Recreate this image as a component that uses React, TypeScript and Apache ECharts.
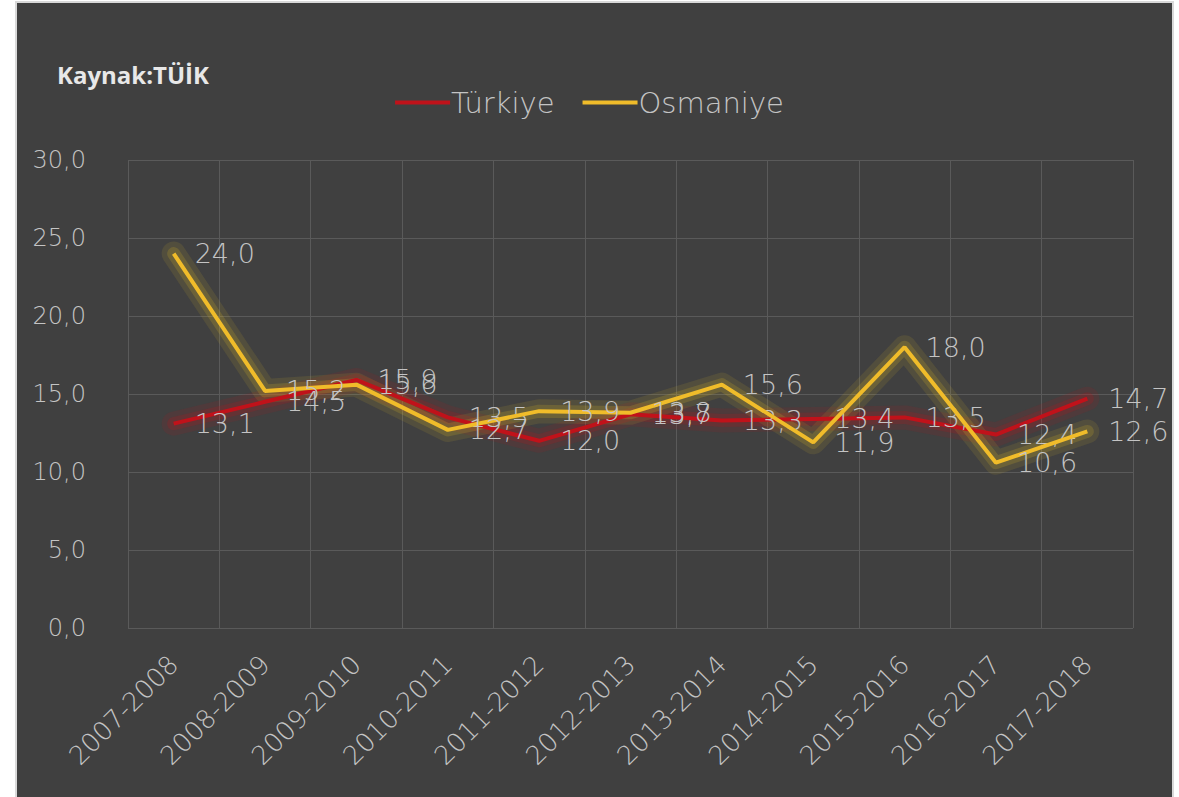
import React, { useEffect, useRef } from "react";
import * as echarts from "echarts";

const categories = [
  "2007-2008", "2008-2009", "2009-2010", "2010-2011", "2011-2012", "2012-2013",
  "2013-2014", "2014-2015", "2015-2016", "2016-2017", "2017-2018",
];
const turkiye = [13.1, 14.5, 15.9, 13.5, 12.0, 13.7, 13.3, 13.4, 13.5, 12.4, 14.7];
const osmaniye = [24.0, 15.2, 15.6, 12.7, 13.9, 13.8, 15.6, 11.9, 18.0, 10.6, 12.6];
const seriesNames = ["Türkiye", "Osmaniye"];
const sourceText = "Kaynak:TÜİK";

const FONT = "'DejaVu Sans', Lato, sans-serif";
const fmt = (v: number) => v.toFixed(1).replace(".", ",");

export default function App() {
  const ref = useRef<HTMLDivElement>(null);
  useEffect(() => {
    document.body.style.margin = "0";
    const chart = echarts.init(ref.current!, null, { renderer: "svg" });
    const labelStyle = {
      show: true,
      position: "right" as const,
      distance: 21,
      color: "#c4c4c4",
      fontSize: 27,
      fontFamily: FONT,
      fontWeight: 200 as any,
      formatter: (p: any) => fmt(p.value),
    };
    const glow = (name: string, data: number[], color: string, width: number, opacity: number) => ({
      name,
      type: "line",
      data,
      symbol: "none",
      silent: true,
      lineStyle: { color, width, opacity, join: "round", cap: "round" },
      z: 1,
    });
    chart.setOption({
      animation: false,
      backgroundColor: "#ffffff",
      graphic: [
        {
          type: "rect",
          z: -10,
          shape: { x: 16, y: 2, width: 1157, height: 820 },
          style: { fill: "#404040", stroke: "#d9d9d9", lineWidth: 2 },
        },
        {
          type: "text",
          left: 57,
          top: 62,
          style: {
            text: sourceText,
            fill: "#e8e8e8",
            fontSize: 24,
            fontWeight: "bold",
            fontFamily: "'Open Sans', Lato, sans-serif",
          },
        },
      ],
      legend: {
        data: seriesNames,
        top: 83,
        left: "center",
        icon: "rect",
        itemWidth: 55,
        itemHeight: 4,
        itemGap: 28,
        textStyle: { color: "#c4c4c4", fontSize: 29, fontFamily: FONT, fontWeight: 200 as any, padding: [0, 0, 0, -4] },
      },
      grid: { left: 128, right: 46, top: 160, bottom: 169 },
      xAxis: {
        type: "category",
        data: categories,
        boundaryGap: true,
        axisLine: { show: false },
        axisTick: { show: false },
        splitLine: { show: true, lineStyle: { color: "#5a5a5a", width: 1 } },
        axisLabel: {
          rotate: 45,
          interval: 0,
          margin: 32,
          color: "#c4c4c4",
          fontSize: 26,
          fontFamily: FONT,
          fontWeight: 200 as any,
        },
      },
      yAxis: {
        type: "value",
        min: 0,
        max: 30,
        interval: 5,
        axisLine: { show: false },
        axisTick: { show: false },
        splitLine: { show: true, lineStyle: { color: "#5a5a5a", width: 1 } },
        axisLabel: {
          margin: 42,
          color: "#c4c4c4",
          fontSize: 24,
          fontFamily: FONT,
          fontWeight: 200 as any,
          formatter: (v: number) => fmt(v),
        },
      },
      series: [
        glow("glowT1", turkiye, "#c0121a", 24, 0.12),
        glow("glowT2", turkiye, "#c0121a", 13, 0.2),
        glow("glowO1", osmaniye, "#d8b428", 24, 0.12),
        glow("glowO2", osmaniye, "#d8b428", 13, 0.2),
        {
          name: seriesNames[0],
          type: "line",
          data: turkiye,
          symbol: "circle",
          symbolSize: 0.01,
          showSymbol: true,
          itemStyle: { color: "#c0121a" },
          color: "#c0121a",
          lineStyle: { color: "#c0121a", width: 4 },
          label: labelStyle,
          labelLayout: { hideOverlap: false },
          z: 2,
        },
        {
          name: seriesNames[1],
          type: "line",
          data: osmaniye,
          symbol: "circle",
          symbolSize: 0.01,
          showSymbol: true,
          itemStyle: { color: "#f0bc2a" },
          color: "#f0bc2a",
          lineStyle: { color: "#f0bc2a", width: 4 },
          label: labelStyle,
          labelLayout: { hideOverlap: false },
          z: 3,
        },
      ],
    });
    return () => chart.dispose();
  }, []);
  return <div ref={ref} style={{ width: 1179, height: 797 }} />;
}
